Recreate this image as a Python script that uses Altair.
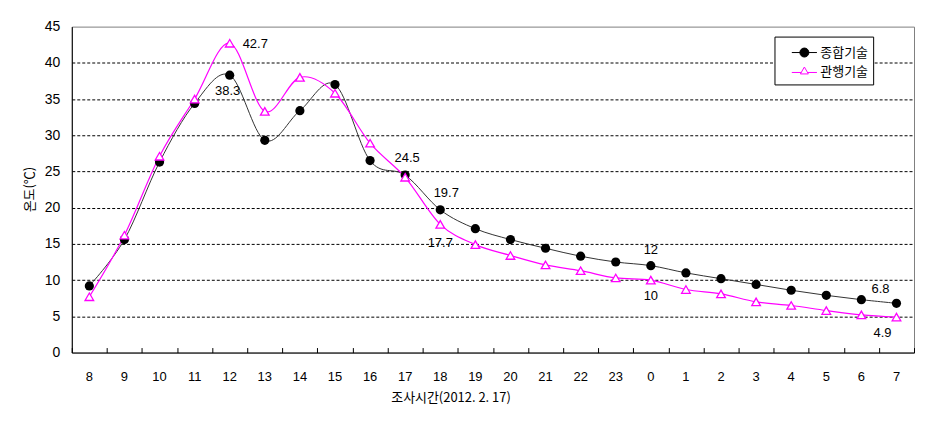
import altair as alt
import pandas as pd

hours = ["8", "9", "10", "11", "12", "13", "14", "15", "16", "17", "18", "19",
         "20", "21", "22", "23", "0", "1", "2", "3", "4", "5", "6", "7"]
integrated = [9.2, 15.6, 26.3, 34.4, 38.3, 29.3, 33.4, 37.0, 26.5, 24.5, 19.7, 17.1,
              15.6, 14.4, 13.3, 12.5, 12.0, 11.0, 10.2, 9.4, 8.6, 7.9, 7.3, 6.8]
conventional = [7.7, 16.2, 27.1, 35.0, 42.7, 33.3, 38.0, 35.8, 28.9, 24.2, 17.7, 14.9,
                13.4, 12.1, 11.3, 10.3, 10.0, 8.7, 8.1, 7.0, 6.5, 5.8, 5.2, 4.9]
series_names = ["종합기술", "관행기술"]
y_ticks = [0, 5, 10, 15, 20, 25, 30, 35, 40, 45]

rows = []
for i, h in enumerate(hours):
    for s, vals in zip(series_names, [integrated, conventional]):
        v = vals[i]
        rows.append({"hour": h, "series": s, "temp": v, "label": f"{v:g}"})
df = pd.DataFrame(rows)

NUM_FONT = "Liberation Sans, Noto Sans CJK KR"
KR_FONT = "Noto Sans CJK KR"
W, H = 845, 327

x_scale = alt.Scale(type="band", domain=hours, paddingInner=0, paddingOuter=0)
y_scale = alt.Scale(domain=[0, 45], nice=False, zero=True)

y_axis = alt.Axis(
    values=y_ticks, title="온도(℃)", titleFont=KR_FONT, titleFontSize=13,
    titleFontWeight="normal", titleColor="black", titleX=-42, titleY=163,
    titleAngle=270, titleAlign="center", titleBaseline="middle",
    labelFont=NUM_FONT, labelFontSize=14, labelColor="black", labelPadding=12,
    ticks=False, domainColor="black", domainWidth=1,
    grid=True, gridColor="black", gridDash=[3, 2], gridWidth=1,
    gridOpacity=alt.condition("datum.value === 0 || datum.value === 45", alt.value(0), alt.value(1)),
)
x_axis_bottom = alt.Axis(
    title="조사시간(2012. 2. 17)", titleFont=KR_FONT, titleFontSize=13,
    titleFontWeight="normal", titleColor="black", titleX=380, titleY=45,
    titleAlign="center", titleBaseline="middle",
    labelFont=NUM_FONT, labelFontSize=13, labelColor="black", labelAngle=0,
    labelPadding=18, ticks=False, domainColor="black", domainWidth=1, grid=False,
)
x_axis_ticks = alt.Axis(
    orient="top", offset=-H, domain=False, labels=False, ticks=True, tickSize=5,
    tickColor="black", tickWidth=1, tickBand="extent", title=None, grid=False,
)

base = alt.Chart(df)
Y = alt.Y("temp:Q", scale=y_scale, axis=y_axis)

def X(axis):
    return alt.X("hour:N", scale=x_scale, sort=hours, axis=axis)

black = base.transform_filter(alt.datum.series == series_names[0])
pink = base.transform_filter(alt.datum.series == series_names[1])

black_line = black.mark_line(color="#333333", strokeWidth=1, interpolate="cardinal").encode(
    x=X(x_axis_bottom), y=Y)
pink_line = pink.mark_line(color="#FF00FF", strokeWidth=1.2, interpolate="cardinal").encode(
    x=X(x_axis_ticks), y=Y)
black_pts = black.mark_point(shape="circle", size=85, filled=True, color="black", opacity=1).encode(
    x=X(None), y=Y)
pink_pts = pink.mark_point(shape="triangle-up", size=75, fill="white", stroke="#FF00FF",
                           strokeWidth=1.3, opacity=1, filled=False).encode(x=X(None), y=Y)

# legend symbols: short line with the marker on it
circ_path = "M-1.2,0H1.2M-0.43,0A0.43,0.43,0,1,0,0.43,0A0.43,0.43,0,1,0,-0.43,0Z"
tri_path = "M-1.2,0H-0.3M0.3,0H1.2M0,-0.52L0.38,0.14L-0.38,0.14Z"
legend_props = dict(
    strokeColor="black", fillColor="white", padding=5,
    symbolSize=441, symbolStrokeWidth=1, symbolOpacity=1, symbolOffset=14,
    labelFont=KR_FONT, labelFontSize=13, labelColor="black",
    labelOffset=5, rowPadding=2,
)
legend_cfg = alt.Legend(
    title=None, orient="none", legendX=705, legendY=10,
    labelExpr="datum.label + '\u3000\u3000'", **legend_props,
)
legend_layer = base.mark_point(opacity=0, filled=True, size=441).encode(
    x=X(None), y=Y,
    shape=alt.Shape("series:N", scale=alt.Scale(domain=series_names, range=[circ_path, tri_path]),
                    legend=legend_cfg),
    stroke=alt.Stroke("series:N", scale=alt.Scale(domain=series_names, range=["black", "#FF00FF"]),
                      legend=legend_cfg),
    fill=alt.Fill("series:N", scale=alt.Scale(domain=series_names, range=["black", "white"]),
                  legend=legend_cfg),
)

label_specs = [
    (series_names[1], "12", 13, 1, "left"),
    (series_names[0], "12", -2, 16, "center"),
    (series_names[0], "17", 2, -17, "center"),
    (series_names[0], "18", 6, -17, "center"),
    (series_names[1], "18", 0, 19, "center"),
    (series_names[0], "0", 0, -16, "center"),
    (series_names[1], "0", 0, 16, "center"),
    (series_names[0], "7", -16, -14, "center"),
    (series_names[1], "7", -14, 16, "center"),
]
texts = []
for s, h, dx, dy, al in label_specs:
    texts.append(
        base.transform_filter((alt.datum.series == s) & (alt.datum.hour == h))
        .mark_text(dx=dx, dy=dy, align=al, baseline="middle", font=NUM_FONT,
                   fontSize=13, color="black")
        .encode(x=X(None), y=Y, text="label:N")
    )

chart = alt.layer(
    black_line, pink_line, legend_layer, black_pts, pink_pts, *texts
).resolve_axis(x="independent").properties(
    width=W, height=H,
    autosize=alt.AutoSizeParams(type="none"),
    padding={"left": 64, "top": 18, "right": 5, "bottom": 70},
).configure_view(stroke="#808080", strokeWidth=1).configure_legend(**legend_props)

chart.save("out.html", embed_options={"renderer": "svg", "actions": False})
